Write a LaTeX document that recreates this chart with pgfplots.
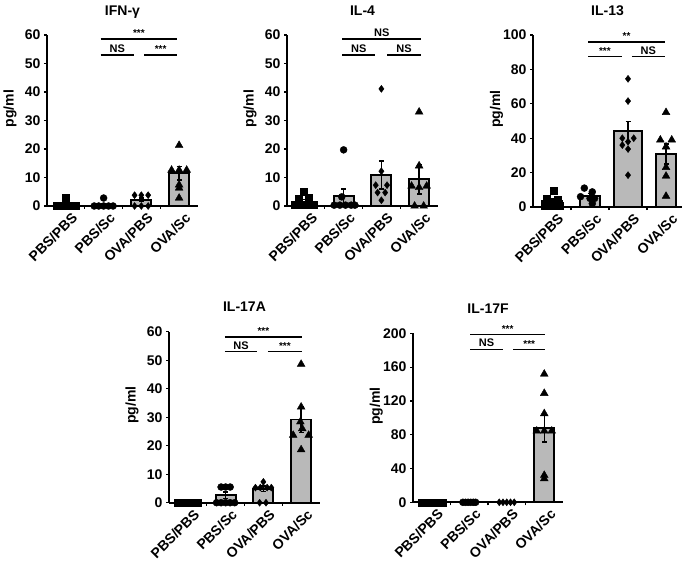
\documentclass[border=0pt]{standalone}
\usepackage{pgfplots}
\pgfplotsset{compat=1.18}
\usepackage{fontspec}
\setmainfont{Liberation Sans}
\definecolor{barfill}{RGB}{185,185,185}

\newcommand{\fs}[1]{\bfseries\fontsize{#1}{#1}\selectfont}
% significance bracket: x1, x2, y, text
\newcommand{\sig}[4]{\draw[line width=1.6pt] (axis cs:#1,#3) -- node[above, inner sep=1.5pt] {#4} (axis cs:#2,#3);}

\pgfplotsset{
  panel/.style={
    width=151pt, height=171pt, scale only axis,
    anchor=north west,
    axis lines*=left,
    axis line style={line width=1.8pt},
    xmin=-0.5, xmax=3.5, ymin=0,
    clip=false,
    tick align=outside, major tick length=3pt,
    tick style={line width=1.2pt, black},
    xtick={0.5,1.5,2.5}, xticklabels={,,},
    extra x ticks={0,1,2,3},
    extra x tick labels={PBS/PBS,PBS/Sc,OVA/PBS,OVA/Sc},
    extra x tick style={major tick length=0pt,
      tick label style={font=\fs{14}, rotate=45, anchor=east, xshift=3pt, yshift=-13pt}},
    /pgf/number format/assume math mode=true,
    tick label style={font=\fs{14}},
    title style={font=\fs{14}, at={(0.5,1)}, anchor=base, yshift=14pt},
    ylabel={pg/ml},
    ylabel style={font=\fs{14}, at={(axis description cs:-0.245,0.57)}, anchor=center},
  },
  bars/.style={ybar, bar width=20pt, bar shift=0pt, fill=barfill, draw=black, line width=1.8pt,
    error bars/y dir=both, error bars/y explicit,
    error bars/error bar style={line width=1.5pt, black},
    error bars/error mark options={rotate=90, mark size=2.5pt, line width=1.5pt, black}},
  pts/.style={only marks, black, mark size=3.5pt, mark=#1},
}

\begin{document}
\begin{tikzpicture}
\useasboundingbox (0,0) rectangle (685pt,-560pt);

% IFN-gamma
\begin{axis}[panel, at={(47pt,-35pt)}, title={IFN-γ}, ymax=60, ytick={0,10,...,60}]
\addplot[bars] coordinates {(0,0.5) +- (0,0.4) (1,0.5) +- (0,0.4) (2,2.2) +- (0,0.6) (3,11.5) +- (0,2.3)};
\addplot[pts=square*] coordinates {(-0.25,0) (-0.12,0) (0,0) (0.12,0) (0.25,0) (0,2.8)};
\addplot[pts=*] coordinates {(0.75,0) (0.87,0) (1,0) (1.13,0) (1.25,0) (1,2.8)};
\addplot[pts=diamond*] coordinates {(1.82,3.8) (2,3.8) (2.18,3.8) (1.82,0) (2,0) (2.18,0)};
\addplot[pts=triangle*, mark size=4.5pt] coordinates {(3,21.3) (2.8,12.6) (3,12.6) (3.2,12.6) (3,7.4) (3,6.3) (3,2.8)};
\sig{0.92}{2.95}{58.6}{\fs{10}***}
\sig{0.92}{1.8}{53}{\fs{11}NS}
\sig{2.07}{2.95}{53}{\fs{10}***}
\end{axis}

% IL-4
\begin{axis}[panel, at={(287pt,-35pt)}, title={IL-4}, ymax=60, ytick={0,10,...,60}]
\addplot[bars] coordinates {(0,1.5) +- (0,0.7) (1,3.4) +- (0,2.5) (2,10.9) +- (0,4.9) (3,9.4) +- (0,5.2)};
\addplot[pts=square*] coordinates {(-0.06,4.9) (-0.2,2.6) (0.07,3.0) (-0.3,0.5) (-0.1,0.5) (0.07,0.5) (0.2,0.5)};
\addplot[pts=*] coordinates {(1,19.7) (0.95,3.2) (0.75,0.3) (0.9,0.3) (1.05,0.3) (1.2,0.3) (1.3,0.3)};
\addplot[pts=diamond*] coordinates {(2,41.1) (2,12.2) (1.85,7.3) (2.15,7.3) (1.9,4.7) (2.1,4.7) (2,2.0)};
\addplot[pts=triangle*, mark size=4.5pt] coordinates {(3,33) (3,14.1) (2.8,7) (3.2,7) (3,6.5) (2.88,0) (3.12,0)};
\sig{0.97}{3.05}{58.5}{\fs{11}NS}
\sig{0.97}{1.83}{52.9}{\fs{11}NS}
\sig{2.15}{3.05}{52.9}{\fs{11}NS}
\end{axis}

% IL-13
\begin{axis}[panel, at={(533pt,-35pt)}, width=149pt, height=172pt, title={IL-13}, ymax=100, ytick={0,20,...,100}, xmax=3.42]
\addplot[bars] coordinates {(0,3.4) +- (0,1.2) (1,6.3) +- (0,1.5) (3,30.8) +- (0,5.9)};
\addplot[bars, /pgf/bar width=28pt] coordinates {(2,44) +- (0,5.8)};
\addplot[pts=square*] coordinates {(0.05,9.2) (-0.15,5) (0.15,4.5) (0,3) (-0.2,1) (0,0.8) (0.2,1)};
\addplot[pts=*] coordinates {(0.85,11) (1.06,8.8) (0.75,6) (1,5) (1.12,5) (1.06,2)};
\addplot[pts=diamond*] coordinates {(2,74.5) (2,61.6) (1.85,40) (2.15,40) (2,38) (1.85,36) (2,33.7) (2,18.5)};
\addplot[pts=triangle*, mark size=4.5pt] coordinates {(3,55) (2.85,39) (3.15,39) (3,35) (3,23) (3,18) (3,6.3)};
\sig{0.95}{2.97}{96}{\fs{10}**}
\sig{0.95}{1.83}{87.4}{\fs{10}***}
\sig{2.1}{2.97}{87.4}{\fs{11}NS}
\end{axis}

% IL-17A
\begin{axis}[panel, at={(169pt,-331.7pt)}, title={IL-17A}, ymax=60, ytick={0,10,...,60}]
\addplot[bars] coordinates {(0,0.3) +- (0,0) (1,2.6) +- (0,1.2) (2,4.9) +- (0,1) (3,29.2) +- (0,4.5)};
\addplot[pts=square*] coordinates {(-0.26,0) (-0.17,0) (-0.09,0) (0,0) (0.09,0) (0.17,0) (0.26,0)};
\addplot[pts=*] coordinates {(0.88,5.5) (1,5.5) (1.12,5.5) (0.76,0) (0.88,0) (1,0) (1.12,0) (1.24,0)};
\addplot[pts=diamond*] coordinates {(2,7.3) (1.79,5.3) (1.92,5.3) (2.1,5.3) (2.21,5.3) (1.9,0) (2.07,0)};
\addplot[pts=triangle*, mark size=4.5pt] coordinates {(3,48.6) (3,33.6) (2.98,28.4) (3.03,26) (2.79,23.7) (3.2,23.7) (3,18.6)};
\sig{0.98}{3.02}{58.2}{\fs{10}***}
\sig{0.98}{1.84}{53}{\fs{11}NS}
\sig{2.12}{3.02}{53}{\fs{10}***}
\end{axis}

% IL-17F
\begin{axis}[panel, at={(413pt,-333.3pt)}, width=150pt, height=169pt, title={IL-17F}, ymax=200, ytick={0,40,...,200}]
\addplot[bars] coordinates {(0,0) +- (0,0) (1,0) +- (0,0) (3,87.6) +- (0,16)};
\addplot[pts=square*] coordinates {(-0.28,0) (-0.2,0) (-0.12,0) (-0.04,0) (0.04,0) (0.12,0) (0.2,0) (0.28,0)};
\addplot[pts=*] coordinates {(0.83,0) (0.9,0) (0.97,0) (1.04,0) (1.11,0) (1.17,0)};
\addplot[pts=diamond*] coordinates {(1.8,0) (1.9,0) (2,0) (2.1,0) (2.2,0)};
\addplot[pts=triangle*, mark size=4.5pt] coordinates {(3,151.8) (3,129) (3,105) (2.8,84.4) (3,84.4) (3.2,84.4) (3,32) (3,28)};
\sig{1.02}{3.03}{198.8}{\fs{10}***}
\sig{1.02}{1.9}{181}{\fs{11}NS}
\sig{2.17}{3.03}{181}{\fs{10}***}
\end{axis}
\end{tikzpicture}
\end{document}
